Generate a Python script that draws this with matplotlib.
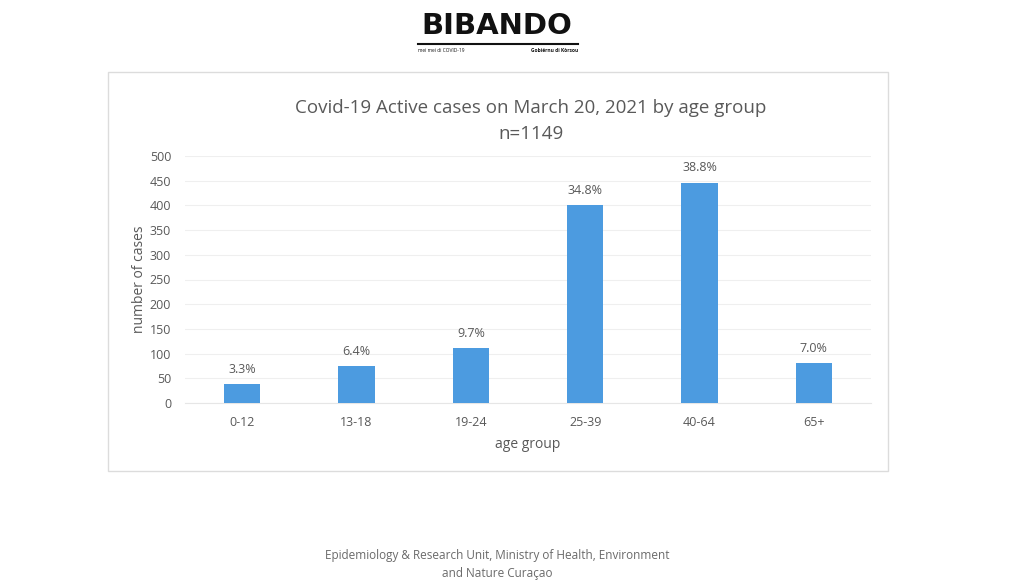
import matplotlib.pyplot as plt
from matplotlib.patches import Rectangle

age_groups = ['0-12', '13-18', '19-24', '25-39', '40-64', '65+']
cases = [38, 74, 111, 400, 446, 80]
pct_labels = ['3.3%', '6.4%', '9.7%', '34.8%', '38.8%', '7.0%']
y_ticks = [0, 50, 100, 150, 200, 250, 300, 350, 400, 450, 500]

plt.rcParams['font.family'] = ['Open Sans', 'DejaVu Sans']
GRAY = '#595959'

fig = plt.figure(figsize=(10.13, 5.87), dpi=100)
fig.patch.set_facecolor('white')

# chart frame
fig.patches.append(Rectangle((108 / 1013, 1 - 471 / 587), 780 / 1013, 399 / 587,
                             transform=fig.transFigure, facecolor='none',
                             edgecolor='#dcdcdc', linewidth=1, zorder=0))

ax = fig.add_axes([185 / 1013, 1 - 403 / 587, 686 / 1013, 247 / 587])
ax.set_zorder(2)
ax.patch.set_alpha(0)
x = range(len(age_groups))
bars = ax.bar(x, cases, width=0.32, color='#4C9BE0', zorder=3)
for xi, v, lab in zip(x, cases, pct_labels):
    ax.annotate(lab, (xi, v), xytext=(0, 6), textcoords='offset points',
                ha='center', va='bottom', fontsize=9, color=GRAY)

ax.set_xlim(-0.5, len(age_groups) - 0.5)
ax.set_ylim(0, 500)
ax.set_yticks(y_ticks)
ax.set_xticks(list(x))
ax.set_xticklabels(age_groups)
ax.tick_params(axis='both', length=0, labelsize=9, labelcolor=GRAY)
ax.tick_params(axis='y', pad=10)
ax.tick_params(axis='x', pad=9)
ax.grid(axis='y', color='#efefef', linewidth=0.8, zorder=0)
for s in ax.spines.values():
    s.set_visible(False)
ax.spines['bottom'].set_visible(True)
ax.spines['bottom'].set_color('#e6e6e6')
ax.set_ylabel('number of cases', fontsize=10, color=GRAY, labelpad=2)
ax.set_xlabel('age group', fontsize=10, color=GRAY, labelpad=6)

fig.text(531 / 1013, 1 - 108 / 587, 'Covid-19 Active cases on March 20, 2021 by age group',
         ha='center', va='center', fontsize=13.5, color=GRAY)
fig.text(531 / 1013, 1 - 134 / 587, 'n=1149', ha='center', va='center',
         fontsize=13.5, color=GRAY)

# logo
fig.text(497 / 1013, 1 - 26 / 587, 'BIBANDO', ha='center', va='center',
         fontsize=21, fontweight='bold', color='#111111', family=['DejaVu Sans'])
fig.add_artist(plt.Line2D([418 / 1013, 578 / 1013], [1 - 44 / 587, 1 - 44 / 587],
                          color='#111111', linewidth=1.5, transform=fig.transFigure))
fig.text(418 / 1013, 1 - 50 / 587, 'mei mei di COVID-19', ha='left', va='center',
         fontsize=3.5, color='#111111')
fig.text(578 / 1013, 1 - 50 / 587, 'Gobiérnu di Kòrsou', ha='right', va='center',
         fontsize=3.5, color='#111111', fontweight='bold')

# footer
fig.text(497 / 1013, 1 - 555 / 587, 'Epidemiology & Research Unit, Ministry of Health, Environment',
         ha='center', va='center', fontsize=8.5, color='#6a6a6a')
fig.text(497 / 1013, 1 - 573 / 587, 'and Nature Curaçao', ha='center', va='center',
         fontsize=8.5, color='#6a6a6a')

fig.savefig('out.png', dpi=100)
